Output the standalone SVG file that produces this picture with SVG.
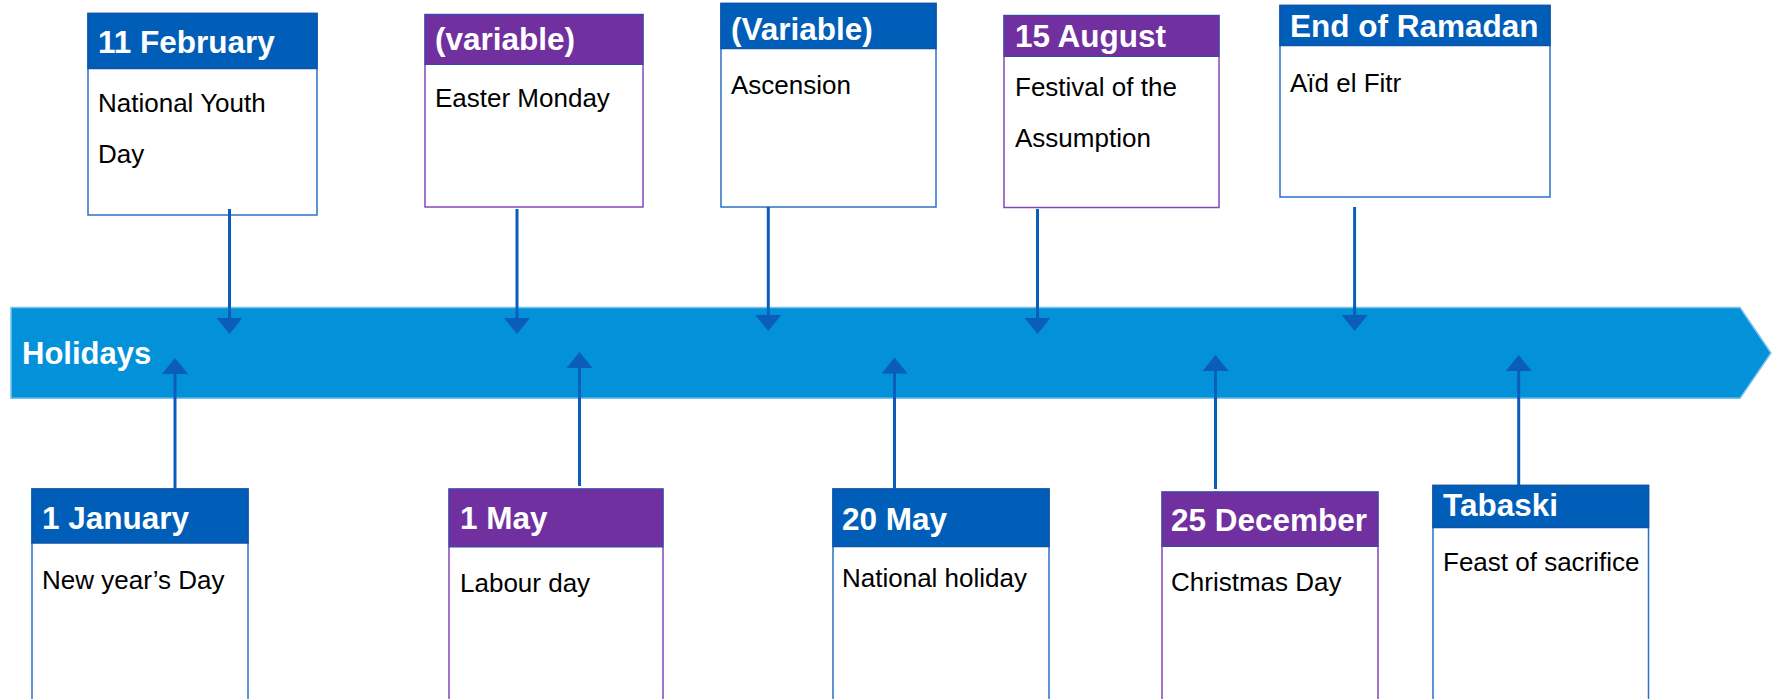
<svg xmlns="http://www.w3.org/2000/svg" width="1773" height="699" viewBox="0 0 1773 699">
<style>
.hdr{font-family:"Liberation Sans",Arial,sans-serif;font-weight:bold;font-size:31.5px;fill:#fff}
.body{font-family:"Liberation Sans",Arial,sans-serif;font-size:26px;fill:#000}
.box-blue{fill:#fff;stroke:#2a72c6;stroke-width:1.5}
.box-purple{fill:#fff;stroke:#8547b8;stroke-width:1.5}
.h-blue{fill:#005eb8;stroke:#0d54a8;stroke-width:1.5}
.h-purple{fill:#7030a0;stroke:#2c4fa8;stroke-width:1}
.conn{stroke:#0b5dba;stroke-width:3;fill:none;marker-end:url(#arr)}
.bar{fill:#0391da;stroke:#7cc3ec;stroke-width:1.5}
.title{font-family:"Liberation Sans",Arial,sans-serif;font-weight:bold;font-size:31px;fill:#fff}
</style>
<defs>
<marker id="arr" markerUnits="userSpaceOnUse" viewBox="0 -13 16 26" markerWidth="16" markerHeight="26" refX="2" refY="0" orient="auto">
<path d="M0,-13 L16,0 L0,13 Z" fill="#0b5dba"/>
</marker>
</defs>
<g id="timeline">
<path class="bar" d="M11,307.5 L1740,307.5 L1771,353 L1740,398.3 L11,398.3 Z"/>
<text class="title" x="22" y="363.5">Holidays</text>
</g>
<g id="n-11feb">
<rect class="box-blue" x="88" y="13.5" width="229" height="201.5"/>
<rect class="h-blue" x="88" y="13.5" width="229" height="55"/>
<text class="hdr" x="98" y="52.5">11 February</text>
<text class="body" x="98" y="112">National Youth</text>
<text class="body" x="98" y="163">Day</text>
</g>
<g id="n-easter">
<rect class="box-purple" x="425" y="14.5" width="218" height="192.5"/>
<rect class="h-purple" x="425" y="14.5" width="218" height="50"/>
<text class="hdr" x="435" y="50">(variable)</text>
<text class="body" x="435" y="107">Easter Monday</text>
</g>
<g id="n-ascension">
<rect class="box-blue" x="721" y="3.5" width="215" height="203.5"/>
<rect class="h-blue" x="721" y="3.5" width="215" height="45"/>
<text class="hdr" x="731" y="40">(Variable)</text>
<text class="body" x="731" y="94">Ascension</text>
</g>
<g id="n-15aug">
<rect class="box-purple" x="1004" y="15.5" width="215" height="192"/>
<rect class="h-purple" x="1004" y="15.5" width="215" height="41"/>
<text class="hdr" x="1015" y="46.5">15 August</text>
<text class="body" x="1015" y="95.5">Festival of the</text>
<text class="body" x="1015" y="146.5">Assumption</text>
</g>
<g id="n-ramadan">
<rect class="box-blue" x="1280" y="5.5" width="270" height="191.5"/>
<rect class="h-blue" x="1280" y="5.5" width="270" height="40"/>
<text class="hdr" x="1290" y="36.5">End of Ramadan</text>
<text class="body" x="1290" y="91.5">Aïd el Fitr</text>
</g>
<g id="n-1jan">
<rect class="box-blue" x="32" y="489" width="216" height="225"/>
<rect class="h-blue" x="32" y="489" width="216" height="54"/>
<text class="hdr" x="42" y="528.5">1 January</text>
<text class="body" x="42" y="588.5">New year’s Day</text>
</g>
<g id="n-1may">
<rect class="box-purple" x="449" y="489" width="214" height="225"/>
<rect class="h-purple" x="449" y="489" width="214" height="58"/>
<text class="hdr" x="460" y="529">1 May</text>
<text class="body" x="460" y="591.5">Labour day</text>
</g>
<g id="n-20may">
<rect class="box-blue" x="833" y="489" width="216" height="225"/>
<rect class="h-blue" x="833" y="489" width="216" height="57.5"/>
<text class="hdr" x="842" y="530">20 May</text>
<text class="body" x="842" y="586.5">National holiday</text>
</g>
<g id="n-25dec">
<rect class="box-purple" x="1162" y="492" width="216" height="222"/>
<rect class="h-purple" x="1162" y="492" width="216" height="54.5"/>
<text class="hdr" x="1171" y="530.5">25 December</text>
<text class="body" x="1171" y="590.5">Christmas Day</text>
</g>
<g id="n-tabaski">
<rect class="box-blue" x="1433" y="485.5" width="215.5" height="228"/>
<rect class="h-blue" x="1433" y="485.5" width="215.5" height="42"/>
<text class="hdr" x="1443" y="515.5">Tabaski</text>
<text class="body" x="1443" y="571">Feast of sacrifice</text>
</g>
<g id="connectors">
<line class="conn" x1="229.5" y1="209" x2="229.5" y2="320"/>
<line class="conn" x1="517" y1="209" x2="517" y2="320"/>
<line class="conn" x1="768.3" y1="207" x2="768.3" y2="317"/>
<line class="conn" x1="1037.5" y1="209" x2="1037.5" y2="320"/>
<line class="conn" x1="1354.6" y1="207" x2="1354.6" y2="317"/>
<line class="conn" x1="175" y1="489" x2="175" y2="372"/>
<line class="conn" x1="579.5" y1="486" x2="579.5" y2="366"/>
<line class="conn" x1="894.5" y1="489" x2="894.5" y2="371.5"/>
<line class="conn" x1="1215.5" y1="489" x2="1215.5" y2="369"/>
<line class="conn" x1="1518.7" y1="485" x2="1518.7" y2="369"/>
</g>
</svg>
